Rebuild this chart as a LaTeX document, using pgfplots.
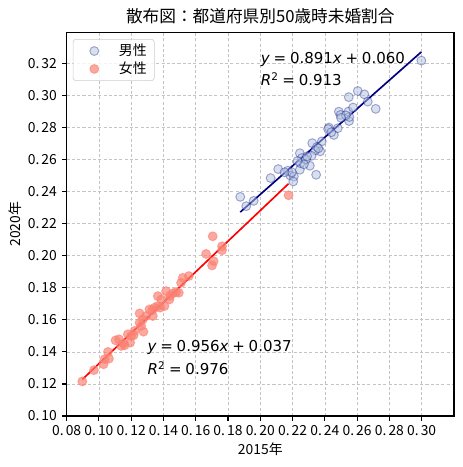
\documentclass[border=0pt]{standalone}
\usepackage{pgfplots}
\pgfplotsset{compat=1.18}
\usepackage{fontspec}
\setmainfont{Noto Sans CJK JP}
\newfontfamily\dejavu{DejaVu Sans}
\definecolor{malefill}{HTML}{B0C4DE}
\definecolor{maleedge}{HTML}{000080}
\definecolor{femfill}{HTML}{FA8072}
\definecolor{gridc}{HTML}{C4C4C4}
\definecolor{legedge}{HTML}{CCCCCC}
\pgfplotstableread{
x y
0.1876 0.2367
0.1913 0.2309
0.1959 0.2342
0.2064 0.2484
0.2111 0.2540
0.2171 0.2530
0.2186 0.2500
0.2208 0.2494
0.2204 0.2463
0.2245 0.2536
0.2249 0.2577
0.2245 0.2639
0.2258 0.2609
0.2307 0.2561
0.2346 0.2505
0.2322 0.2702
0.2351 0.2678
0.2371 0.2651
0.2340 0.2657
0.2381 0.2713
0.2318 0.2623
0.2283 0.2600
0.2425 0.2799
0.2456 0.2753
0.2480 0.2795
0.2420 0.2790
0.2487 0.2898
0.2497 0.2878
0.2548 0.2989
0.2546 0.2899
0.2550 0.2840
0.2552 0.2865
0.2575 0.2924
0.2604 0.3027
0.2645 0.3006
0.2666 0.2961
0.2715 0.2916
0.2998 0.3217
0.2270 0.2570
0.2360 0.2670
0.2195 0.2520
0.2440 0.2770
0.2530 0.2875
0.2290 0.2620
0.2150 0.2520
0.2230 0.2590
0.2500 0.2860
}\male
\pgfplotstableread{
x y
0.0897 0.1216
0.0969 0.1286
0.1029 0.1323
0.1035 0.1354
0.1056 0.1400
0.1062 0.1358
0.1103 0.1472
0.1124 0.1479
0.1138 0.1437
0.1153 0.1454
0.1159 0.1441
0.1179 0.1510
0.1194 0.1458
0.1215 0.1504
0.1221 0.1531
0.1252 0.1640
0.1252 0.1582
0.1262 0.1562
0.1276 0.1526
0.1272 0.1603
0.1293 0.1624
0.1313 0.1665
0.1334 0.1624
0.1344 0.1676
0.1365 0.1748
0.1365 0.1686
0.1379 0.1676
0.1386 0.1727
0.1406 0.1686
0.1416 0.1779
0.1437 0.1727
0.1458 0.1765
0.1478 0.1773
0.1495 0.1769
0.1520 0.1862
0.1509 0.1831
0.1557 0.1873
0.1664 0.2011
0.1705 0.2121
0.1701 0.1939
0.1711 0.1966
0.1763 0.2059
0.1763 0.2034
0.2175 0.2377
0.1330 0.1660
0.1200 0.1500
0.1440 0.1750
}\female
\newcommand\msp{\kern0.25em}
\begin{document}
\begin{tikzpicture}
\begin{axis}[
  name=ax,
  scale only axis,
  width=278.9pt, height=276.3pt,
  xmin=0.08, xmax=0.32, ymin=0.10, ymax=0.3393,
  xtick={0.08,0.10,0.12,0.14,0.16,0.18,0.20,0.22,0.24,0.26,0.28,0.30},
  xticklabels={0.\kern1.5pt08,0.\kern1.5pt10,0.\kern1.5pt12,0.\kern1.5pt14,0.\kern1.5pt16,0.\kern1.5pt18,0.\kern1.5pt20,0.\kern1.5pt22,0.\kern1.5pt24,0.\kern1.5pt26,0.\kern1.5pt28,0.\kern1.5pt30},
  ytick={0.10,0.12,0.14,0.16,0.18,0.20,0.22,0.24,0.26,0.28,0.30,0.32},
  yticklabels={0.\kern1.5pt10,0.\kern1.5pt12,0.\kern1.5pt14,0.\kern1.5pt16,0.\kern1.5pt18,0.\kern1.5pt20,0.\kern1.5pt22,0.\kern1.5pt24,0.\kern1.5pt26,0.\kern1.5pt28,0.\kern1.5pt30,0.\kern1.5pt32},
  ticklabel style={font=\fontsize{10pt}{12pt}\selectfont},
  tick align=outside,
  major tick length=3.5pt,
  every tick/.style={black, line width=0.8pt},
  axis line style={line width=0.8pt},
  xtick pos=bottom, ytick pos=left,
  grid=major,
  major grid style={gridc, line width=0.5pt, dash pattern=on 2.2pt off 1.6pt},
  title={散布図：都道府県別50歳時未婚割合},
  title style={font=\fontsize{12pt}{14pt}\selectfont, at={(0.5,1)}, anchor=base, yshift=1pt},
  xlabel={2015年},
  xlabel style={font=\fontsize{10pt}{12pt}\selectfont, at={(axis description cs:0.5,0)}, anchor=base, yshift=-27.4pt},
  ylabel={2020年},
  ylabel style={font=\fontsize{10pt}{12pt}\selectfont, at={(axis description cs:0,0.5)}, anchor=center, yshift=37.2pt},
  legend cell align=left,
  legend style={at={(0,1)}, anchor=north west, xshift=4.5pt, yshift=-4.8pt,
    draw=legedge, rounded corners=2pt, fill=white, fill opacity=0.8, text opacity=1,
    font=\fontsize{10pt}{12pt}\selectfont,
    inner xsep=3pt, inner ysep=2.5pt, row sep=1pt,
    nodes={inner ysep=1pt, inner xsep=2.5pt},
    /tikz/every odd column/.append style={column sep=7pt}},
  legend image code/.code={\path (0pt,0pt) (20pt,0pt); \draw[#1] plot coordinates {(12pt,0pt)};},
]
\addplot[only marks, mark=*, mark size=3.2pt,
  mark options={fill=malefill, fill opacity=0.5, draw=maleedge, draw opacity=0.33, line width=0.7pt}]
  table[x=x,y=y] {\male};
\addlegendentry{男性}
\addplot[only marks, mark=*, mark size=3.2pt,
  mark options={fill=femfill, fill opacity=0.68, draw=femfill, draw opacity=0.6, line width=0.7pt}]
  table[x=x,y=y] {\female};
\addlegendentry{女性}
\addplot[maleedge, line width=1.2pt, forget plot] coordinates {(0.1876,0.2272) (0.2998,0.3271)};
\addplot[red, line width=1.2pt, forget plot] coordinates {(0.0897,0.1228) (0.2175,0.2449)};
\node[anchor=base west, inner sep=0pt, font=\dejavu\fontsize{10.8pt}{12pt}\selectfont] at (axis cs:0.2002,0.32) {\textit{y}\msp=\msp0.891\textit{x}\msp+\msp0.060};
\node[anchor=base west, inner sep=0pt, font=\dejavu\fontsize{10.8pt}{12pt}\selectfont] at (axis cs:0.2002,0.306) {\textit{R}\textsuperscript{2}\msp=\msp0.913};
\node[anchor=base west, inner sep=0pt, font=\dejavu\fontsize{10.8pt}{12pt}\selectfont] at (axis cs:0.1300,0.14) {\textit{y}\msp=\msp0.956\textit{x}\msp+\msp0.037};
\node[anchor=base west, inner sep=0pt, font=\dejavu\fontsize{10.8pt}{12pt}\selectfont] at (axis cs:0.1300,0.1256) {\textit{R}\textsuperscript{2}\msp=\msp0.976};
\coordinate (SW) at (rel axis cs:0,0);
\coordinate (NE) at (rel axis cs:1,1);
\end{axis}
\pgfresetboundingbox
\path ([shift={(-48pt,-36.7pt)}]SW) rectangle ([shift={(6.5pt,23.3pt)}]NE);
\end{tikzpicture}
\end{document}
